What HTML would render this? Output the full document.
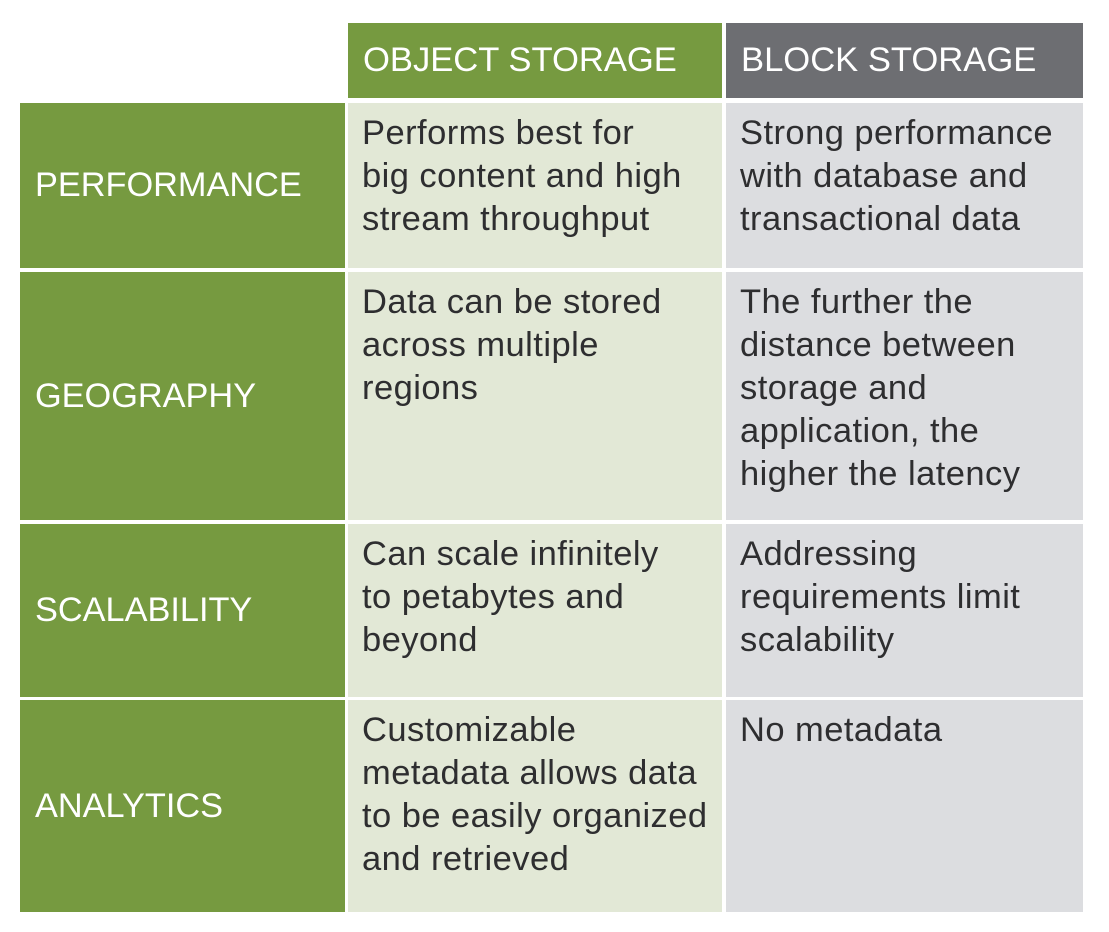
<!DOCTYPE html>
<html><head><meta charset="utf-8"><style>
body{margin:0;width:1109px;height:932px;background:#fff;position:relative;font-family:"Liberation Sans",Arial,sans-serif;overflow:hidden}
.c{position:absolute;box-sizing:border-box}
.g{background:#769a40;color:#fff}
.h{background:#6d6e72;color:#fff}
.lg{background:#e2e8d6;color:#2e2e30}
.gr{background:#dcdde0;color:#2e2e30}
.hd{font-size:34.6px;padding-left:15px;display:flex;align-items:center}
.lb{font-size:34.3px;padding-left:15px;display:flex;align-items:center}
.t{font-size:34.5px;letter-spacing:0.45px;line-height:43px;padding:9px 0 0 14px;white-space:nowrap}
</style></head><body>
<div class="c g hd" style="left:348px;top:23px;width:374px;height:75px">OBJECT STORAGE</div>
<div class="c h hd" style="left:726px;top:23px;width:357px;height:75px">BLOCK STORAGE</div>

<div class="c g lb" style="left:20px;top:103px;width:325px;height:165px">PERFORMANCE</div>
<div class="c lg t" style="left:348px;top:103px;width:374px;height:165px">Performs best for<br>big content and high<br>stream throughput</div>
<div class="c gr t" style="left:726px;top:103px;width:357px;height:165px">Strong performance<br>with database and<br>transactional data</div>

<div class="c g lb" style="left:20px;top:272px;width:325px;height:248px">GEOGRAPHY</div>
<div class="c lg t" style="left:348px;top:272px;width:374px;height:248px">Data can be stored<br>across multiple<br>regions</div>
<div class="c gr t" style="left:726px;top:272px;width:357px;height:248px">The further the<br>distance between<br>storage and<br>application, the<br>higher the latency</div>

<div class="c g lb" style="left:20px;top:524px;width:325px;height:173px">SCALABILITY</div>
<div class="c lg t" style="left:348px;top:524px;width:374px;height:173px">Can scale infinitely<br>to petabytes and<br>beyond</div>
<div class="c gr t" style="left:726px;top:524px;width:357px;height:173px">Addressing<br>requirements limit<br>scalability</div>

<div class="c g lb" style="left:20px;top:700px;width:325px;height:212px">ANALYTICS</div>
<div class="c lg t" style="left:348px;top:700px;width:374px;height:212px">Customizable<br>metadata allows data<br>to be easily organized<br>and retrieved</div>
<div class="c gr t" style="left:726px;top:700px;width:357px;height:212px">No metadata</div>
</body></html>
